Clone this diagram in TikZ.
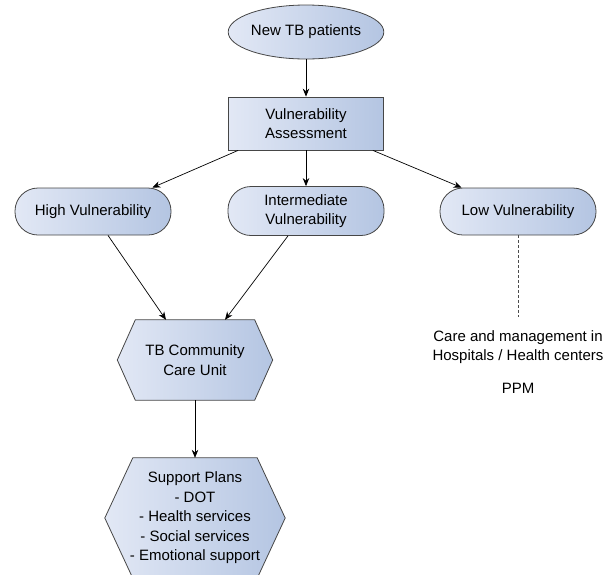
\documentclass[tikz,border=0pt]{standalone}
\usepackage{fontspec}
\setmainfont{Liberation Sans}
\usetikzlibrary{shapes.geometric,arrows.meta,backgrounds}
\definecolor{fillL}{RGB}{226,232,245}
\definecolor{fillD}{RGB}{180,197,226}
\definecolor{edgec}{RGB}{70,70,70}
\begin{document}
\begin{tikzpicture}[x=1pt,y=-1pt,
  every node/.style={font=\fontsize{15}{19.5}\selectfont, text=black, align=center},
  fillstyle/.style={draw=edgec, line width=0.8pt, left color=fillL, right color=fillD},
  ellnode/.style={fillstyle, ellipse, minimum width=154pt, minimum height=54pt, inner sep=0pt},
  boxnode/.style={fillstyle, rectangle, minimum width=155pt, minimum height=53pt, inner sep=0pt},
  pillnode/.style={fillstyle, rectangle, rounded corners=23pt, minimum width=156pt, minimum height=47pt, inner sep=0pt},
  hexnode/.style={inner sep=0pt},
  arr/.style={draw=black, line width=0.7pt, -{Stealth[length=8pt,width=6.5pt]}},
  dashline/.style={draw=black!70, line width=0.7pt, dash pattern=on 3pt off 2pt}]
\useasboundingbox (0,0) rectangle (612,574);
\node[ellnode] (ne) at (306,32) {New TB patients};
\node[boxnode] (vb) at (306,123.5) {Vulnerability\\Assessment};
\node[pillnode] (hi) at (93,211.5) {High Vulnerability};
\node[pillnode, minimum height=49pt] (in) at (306,211) {Intermediate\\Vulnerability};
\node[pillnode] (lo) at (518,211.5) {Low Vulnerability};
\node[hexnode, minimum width=155pt, minimum height=80pt] (cu) at (195,360) {TB Community\\Care Unit};
\node[hexnode, minimum width=180pt, minimum height=120pt] (sp) at (195,518) {Support Plans\\- DOT\\- Health services\\- Social services\\- Emotional support};
\begin{scope}[on background layer]
\path[fillstyle] (cu.west) -- ([xshift=18pt]cu.north west) -- ([xshift=-18pt]cu.north east) -- (cu.east) -- ([xshift=-18pt]cu.south east) -- ([xshift=18pt]cu.south west) -- cycle;
\path[fillstyle] (sp.west) -- ([xshift=28pt]sp.north west) -- ([xshift=-28pt]sp.north east) -- (sp.east) -- ([xshift=-28pt]sp.south east) -- ([xshift=28pt]sp.south west) -- cycle;
\end{scope}
\node (care) at (518,347) {Care and management in\\Hospitals / Health centers};
\node (ppm) at (518,388) {PPM};
\coordinate (dend) at (518,317);
\draw[arr] (ne.south) -- (vb.north);
\draw[arr] ([xshift=10pt]vb.south west) -- ([xshift=-19pt]hi.north east);
\draw[arr] (vb.south) -- (in.north);
\draw[arr] ([xshift=-11pt]vb.south east) -- ([xshift=22pt]lo.north west);
\draw[arr] ([xshift=15pt]hi.south) -- ([xshift=-29pt]cu.north);
\draw[arr] ([xshift=-18pt]in.south) -- ([xshift=30pt]cu.north);
\draw[arr] (cu.south) -- (sp.north);
\draw[dashline] (lo.south) -- (dend);
\end{tikzpicture}
\end{document}
